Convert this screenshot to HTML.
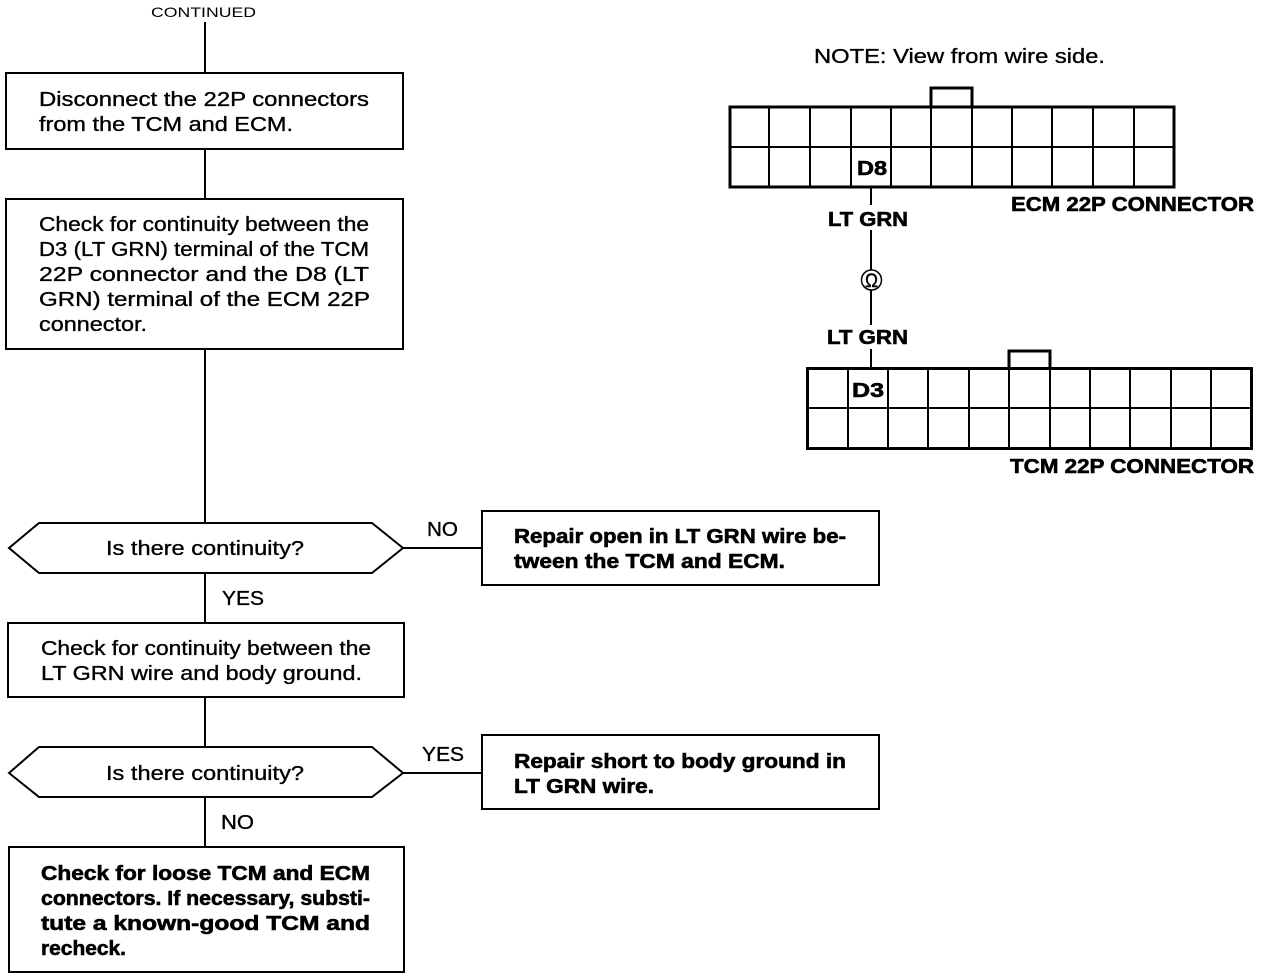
<!DOCTYPE html>
<html>
<head>
<meta charset="utf-8">
<style>
html,body{margin:0;padding:0;background:#fff}
svg{display:block}
text{font-family:"Liberation Sans",sans-serif;font-size:20px;fill:#000;stroke:#000;stroke-width:.35px}
.b{font-weight:bold;stroke-width:.6px}
.l{stroke:#000;stroke-width:2;fill:none}
.t{stroke:#000;stroke-width:3;fill:none}
</style>
</head>
<body>
<svg width="1264" height="978" viewBox="0 0 1264 978" xmlns="http://www.w3.org/2000/svg">
<text x="151" y="17" style="font-size:14px;stroke-width:0" textLength="105" lengthAdjust="spacingAndGlyphs">CONTINUED</text>

<!-- flow connectors -->
<path class="l" d="M205 22V73M205 150V199M205 349V523M205 573V623M205 697V747M205 797V847M403 548H482M403 773H482"/>

<!-- boxes -->
<rect class="l" x="6" y="73" width="397" height="76"/>
<rect class="l" x="6" y="199" width="397" height="150"/>
<rect class="l" x="8" y="623" width="396" height="74"/>
<rect class="l" x="9" y="847" width="395" height="125"/>
<rect class="l" x="482" y="511" width="397" height="74"/>
<rect class="l" x="482" y="735" width="397" height="74"/>

<!-- decisions -->
<polygon class="l" fill="#fff" points="9,548 39,523 372,523 403,548 372,573 39,573"/>
<polygon class="l" fill="#fff" points="9,773 39,747 372,747 403,773 372,797 39,797"/>

<!-- box text -->
<text x="39" y="106" textLength="330" lengthAdjust="spacingAndGlyphs">Disconnect the 22P connectors</text>
<text x="39" y="131" textLength="254" lengthAdjust="spacingAndGlyphs">from the TCM and ECM.</text>

<text x="39" y="231" textLength="330" lengthAdjust="spacingAndGlyphs">Check for continuity between the</text>
<text x="39" y="256" textLength="330" lengthAdjust="spacingAndGlyphs">D3 (LT GRN) terminal of the TCM</text>
<text x="39" y="281" textLength="330" lengthAdjust="spacingAndGlyphs">22P connector and the D8 (LT</text>
<text x="39" y="306" textLength="331" lengthAdjust="spacingAndGlyphs">GRN) terminal of the ECM 22P</text>
<text x="39" y="331" textLength="108" lengthAdjust="spacingAndGlyphs">connector.</text>

<text x="106" y="555" textLength="198" lengthAdjust="spacingAndGlyphs">Is there continuity?</text>
<text x="41" y="655" textLength="330" lengthAdjust="spacingAndGlyphs">Check for continuity between the</text>
<text x="41" y="680" textLength="321" lengthAdjust="spacingAndGlyphs">LT GRN wire and body ground.</text>
<text x="106" y="780" textLength="198" lengthAdjust="spacingAndGlyphs">Is there continuity?</text>

<text class="b" x="41" y="880" textLength="329" lengthAdjust="spacingAndGlyphs">Check for loose TCM and ECM</text>
<text class="b" x="41" y="905" textLength="329" lengthAdjust="spacingAndGlyphs">connectors. If necessary, substi-</text>
<text class="b" x="41" y="930" textLength="329" lengthAdjust="spacingAndGlyphs">tute a known-good TCM and</text>
<text class="b" x="41" y="955" textLength="85" lengthAdjust="spacingAndGlyphs">recheck.</text>

<text class="b" x="514" y="543" textLength="332" lengthAdjust="spacingAndGlyphs">Repair open in LT GRN wire be-</text>
<text class="b" x="514" y="568" textLength="271" lengthAdjust="spacingAndGlyphs">tween the TCM and ECM.</text>
<text class="b" x="514" y="768" textLength="332" lengthAdjust="spacingAndGlyphs">Repair short to body ground in</text>
<text class="b" x="514" y="793" textLength="140" lengthAdjust="spacingAndGlyphs">LT GRN wire.</text>

<!-- branch labels -->
<text x="427" y="536" textLength="31" lengthAdjust="spacingAndGlyphs">NO</text>
<text x="222" y="605" textLength="42" lengthAdjust="spacingAndGlyphs">YES</text>
<text x="422" y="761" textLength="42" lengthAdjust="spacingAndGlyphs">YES</text>
<text x="221" y="829" textLength="33" lengthAdjust="spacingAndGlyphs">NO</text>

<!-- note -->
<text x="814" y="63" textLength="291" lengthAdjust="spacingAndGlyphs">NOTE: View from wire side.</text>

<!-- ECM connector -->
<rect class="t" x="730" y="107" width="444" height="80"/>
<path class="t" d="M931 106V88H972V106"/>
<path class="l" d="M730 147H1174M769 107V187M810 107V187M851 107V187M891 107V187M931 107V187M972 107V187M1012 107V187M1052 107V187M1093 107V187M1134 107V187"/>
<text class="b" x="857" y="175" textLength="30" lengthAdjust="spacingAndGlyphs">D8</text>
<text class="b" x="1011" y="211" textLength="243" lengthAdjust="spacingAndGlyphs">ECM 22P CONNECTOR</text>

<!-- wire -->
<path class="l" d="M871 187V205M871 230V270M871 290V325M871 349V368"/>
<circle cx="871.500" cy="280" r="10" fill="#fff" stroke="#000" stroke-width="1.500"/>
<text x="865" y="287" style="font-size:19px;stroke-width:.4px" textLength="13" lengthAdjust="spacingAndGlyphs">Ω</text>
<text class="b" x="828" y="226" textLength="80" lengthAdjust="spacingAndGlyphs">LT GRN</text>
<text class="b" x="827" y="344" textLength="81" lengthAdjust="spacingAndGlyphs">LT GRN</text>

<!-- TCM connector -->
<rect class="t" x="807.500" y="368.500" width="444" height="80"/>
<path class="t" d="M1009 368V351H1050V368"/>
<path class="l" d="M807 408H1252M848 368V448M888 368V448M928 368V448M969 368V448M1009 368V448M1050 368V448M1090 368V448M1130 368V448M1171 368V448M1211 368V448"/>
<text class="b" x="852" y="397" textLength="32" lengthAdjust="spacingAndGlyphs">D3</text>
<text class="b" x="1010" y="473" textLength="244" lengthAdjust="spacingAndGlyphs">TCM 22P CONNECTOR</text>
</svg>
</body>
</html>
